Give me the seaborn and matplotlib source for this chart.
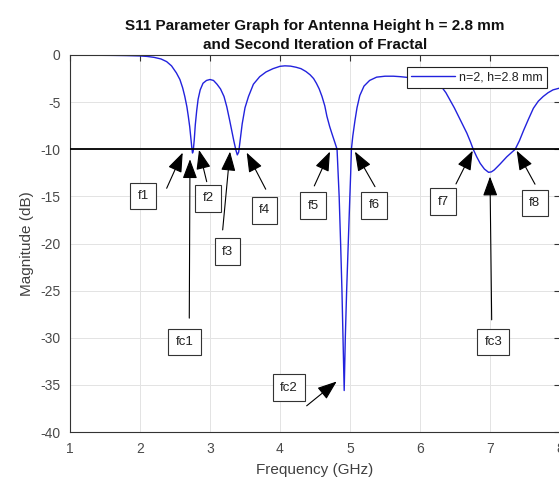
# S11 parameter plot, n=2 fractal, h = 2.8 mm

import matplotlib
matplotlib.use("Agg")
import matplotlib.pyplot as plt
import seaborn as sns

sns.set_style("whitegrid")
plt.rcParams['font.family'] = ['Liberation Sans', 'DejaVu Sans']
plt.rcParams['axes.unicode_minus'] = False

# curve (GHz, dB)
freq = [1.00, 1.20, 1.40, 1.60, 1.80, 2.00, 2.10, 2.20, 2.30, 2.38, 2.45, 2.52,
        2.57, 2.61, 2.64, 2.67, 2.69, 2.71, 2.725, 2.74, 2.75, 2.76, 2.775, 2.79,
        2.81, 2.83, 2.86, 2.90, 2.95, 3.00, 3.05, 3.10, 3.15, 3.20, 3.24, 3.28,
        3.31, 3.34, 3.37, 3.39, 3.41, 3.43, 3.46, 3.50, 3.55, 3.62, 3.71, 3.80,
        3.90, 4.00, 4.07, 4.15, 4.23, 4.30, 4.37, 4.43, 4.48, 4.52, 4.56, 4.60,
        4.64, 4.67, 4.71, 4.74, 4.78, 4.815, 4.83, 4.845, 4.866, 4.885, 4.90, 4.917,
        4.933, 4.952, 4.975, 4.998, 5.01, 5.02, 5.04, 5.07, 5.10, 5.14, 5.20, 5.28,
        5.38, 5.50, 5.62, 5.72, 5.85, 6.00, 6.15, 6.25, 6.31, 6.37, 6.43, 6.49,
        6.55, 6.61, 6.67, 6.72, 6.76, 6.81, 6.86, 6.92, 6.98, 7.02, 7.06, 7.10,
        7.14, 7.19, 7.24, 7.30, 7.36, 7.42, 7.48, 7.55, 7.62, 7.69, 7.76, 7.83,
        7.90, 8.00]
mag = [-0.02, -0.02, -0.03, -0.04, -0.06, -0.10, -0.15, -0.25, -0.42, -0.70, -1.15, -1.90,
       -2.60, -3.50, -4.40, -5.50, -6.50, -7.60, -8.70, -9.80, -10.40, -10.20, -9.00, -7.40,
       -5.90, -4.70, -3.70, -3.00, -2.70, -2.60, -2.70, -3.10, -3.60, -4.40, -5.50, -6.90,
       -8.00, -9.10, -10.10, -10.60, -10.30, -9.10, -7.30, -5.60, -4.40, -3.10, -2.30, -1.80,
       -1.45, -1.20, -1.15, -1.18, -1.30, -1.45, -1.75, -2.10, -2.50, -3.00, -3.60, -4.40,
       -5.40, -6.50, -7.60, -8.30, -9.20, -10.00, -12.50, -15.00, -20.00, -25.00, -30.00, -35.60,
       -30.00, -25.00, -20.00, -15.00, -12.50, -10.00, -8.60, -7.00, -5.60, -4.30, -3.30, -2.70,
       -2.35, -2.25, -2.25, -2.30, -2.40, -2.60, -2.90, -3.20, -3.40, -4.00, -4.80, -5.60,
       -6.50, -7.40, -8.30, -9.20, -10.00, -10.80, -11.50, -12.10, -12.45, -12.40, -12.20, -11.90,
       -11.60, -11.20, -10.80, -10.40, -10.00, -9.10, -8.00, -6.80, -5.65, -4.90, -4.40, -4.00,
       -3.70, -3.50]
threshold = -10
series_label = "n=2, h=2.8 mm"

# text arrows: label, arrow tip, arrow tail, box centre (GHz, dB)
ann_labels = ["f1", "fc1", "f2", "f3", "f4", "f5", "fc2", "f6", "f7", "fc3", "f8"]
tip_f = [2.61, 2.714, 2.843, 3.286, 3.524, 4.714, 4.81, 5.071, 6.753, 7.00, 7.381]
tip_db = [-10.36, -11.06, -10.07, -10.25, -10.36, -10.25, -34.64, -10.25, -10.15, -12.9, -10.15]
tail_f = [2.381, 2.704, 2.953, 3.181, 3.796, 4.49, 4.381, 5.357, 6.514, 7.024, 7.643]
tail_db = [-14.14, -27.92, -13.44, -18.56, -14.24, -13.89, -37.22, -13.97, -13.68, -28.1, -13.71]
box_f = [2.047, 2.638, 2.971, 3.25, 3.779, 4.474, 4.126, 5.346, 6.333, 7.047, 7.639]
box_db = [-14.97, -30.45, -15.2, -20.86, -16.49, -15.99, -35.28, -15.96, -15.56, -30.45, -15.69]

fig = plt.figure(figsize=(5.59, 4.8), dpi=100)
ax = fig.add_axes([70 / 559, 48 / 480, 490 / 559, 377 / 480])

sns.lineplot(x=freq, y=mag, ax=ax, color="#2222dd", lw=1.0, label=series_label)
ax.axhline(threshold, color="black", lw=1.3, zorder=3)

for lab, tf, td, xf, xd, bf, bd in zip(ann_labels, tip_f, tip_db, tail_f, tail_db, box_f, box_db):
    ax.annotate("", xy=(tf, td), xytext=(xf, xd),
                arrowprops=dict(arrowstyle="-|>,head_length=0.8,head_width=0.3",
                                color="black", lw=0.8, shrinkA=0, shrinkB=0,
                                mutation_scale=15),
                zorder=4)
    ax.text(bf, bd, lab, ha="center", va="center", fontsize=9.5, color="#222222",
            bbox=dict(boxstyle="square,pad=0.55", fc="white", ec="#333333", lw=0.8),
            zorder=5)

ax.set_xlim(1, 8)
ax.set_ylim(-40, 0)
ax.set_xticks(range(1, 9))
ax.set_yticks(range(-40, 1, 5))
ax.grid(True, color="#e3e3e3", lw=0.7)
ax.tick_params(direction="in", length=4, width=0.8, colors="#333333",
               labelcolor="#4a4a4a", labelsize=10, top=True, right=True, pad=7)
for s in ax.spines.values():
    s.set_color("#333333")
    s.set_linewidth(0.8)

ax.set_xlabel("Frequency (GHz)", fontsize=11, color="#404040", labelpad=5)
ax.set_ylabel("Magnitude (dB)", fontsize=11, color="#404040", labelpad=4)
ax.set_title("S11 Parameter Graph for Antenna Height h = 2.8 mm\nand Second Iteration of Fractal",
             fontsize=11, fontweight="bold", color="#111111", pad=4, linespacing=1.45)

leg = ax.legend(loc="upper right", bbox_to_anchor=(0.973, 0.968), borderaxespad=0,
                fontsize=9, handlelength=3.5, handletextpad=0.3, borderpad=0.35,
                frameon=True, fancybox=False, framealpha=1, edgecolor="#222222")
leg.get_frame().set_linewidth(0.8)
for t in leg.get_texts():
    t.set_color("#222222")

fig.savefig("out.png", dpi=100)
